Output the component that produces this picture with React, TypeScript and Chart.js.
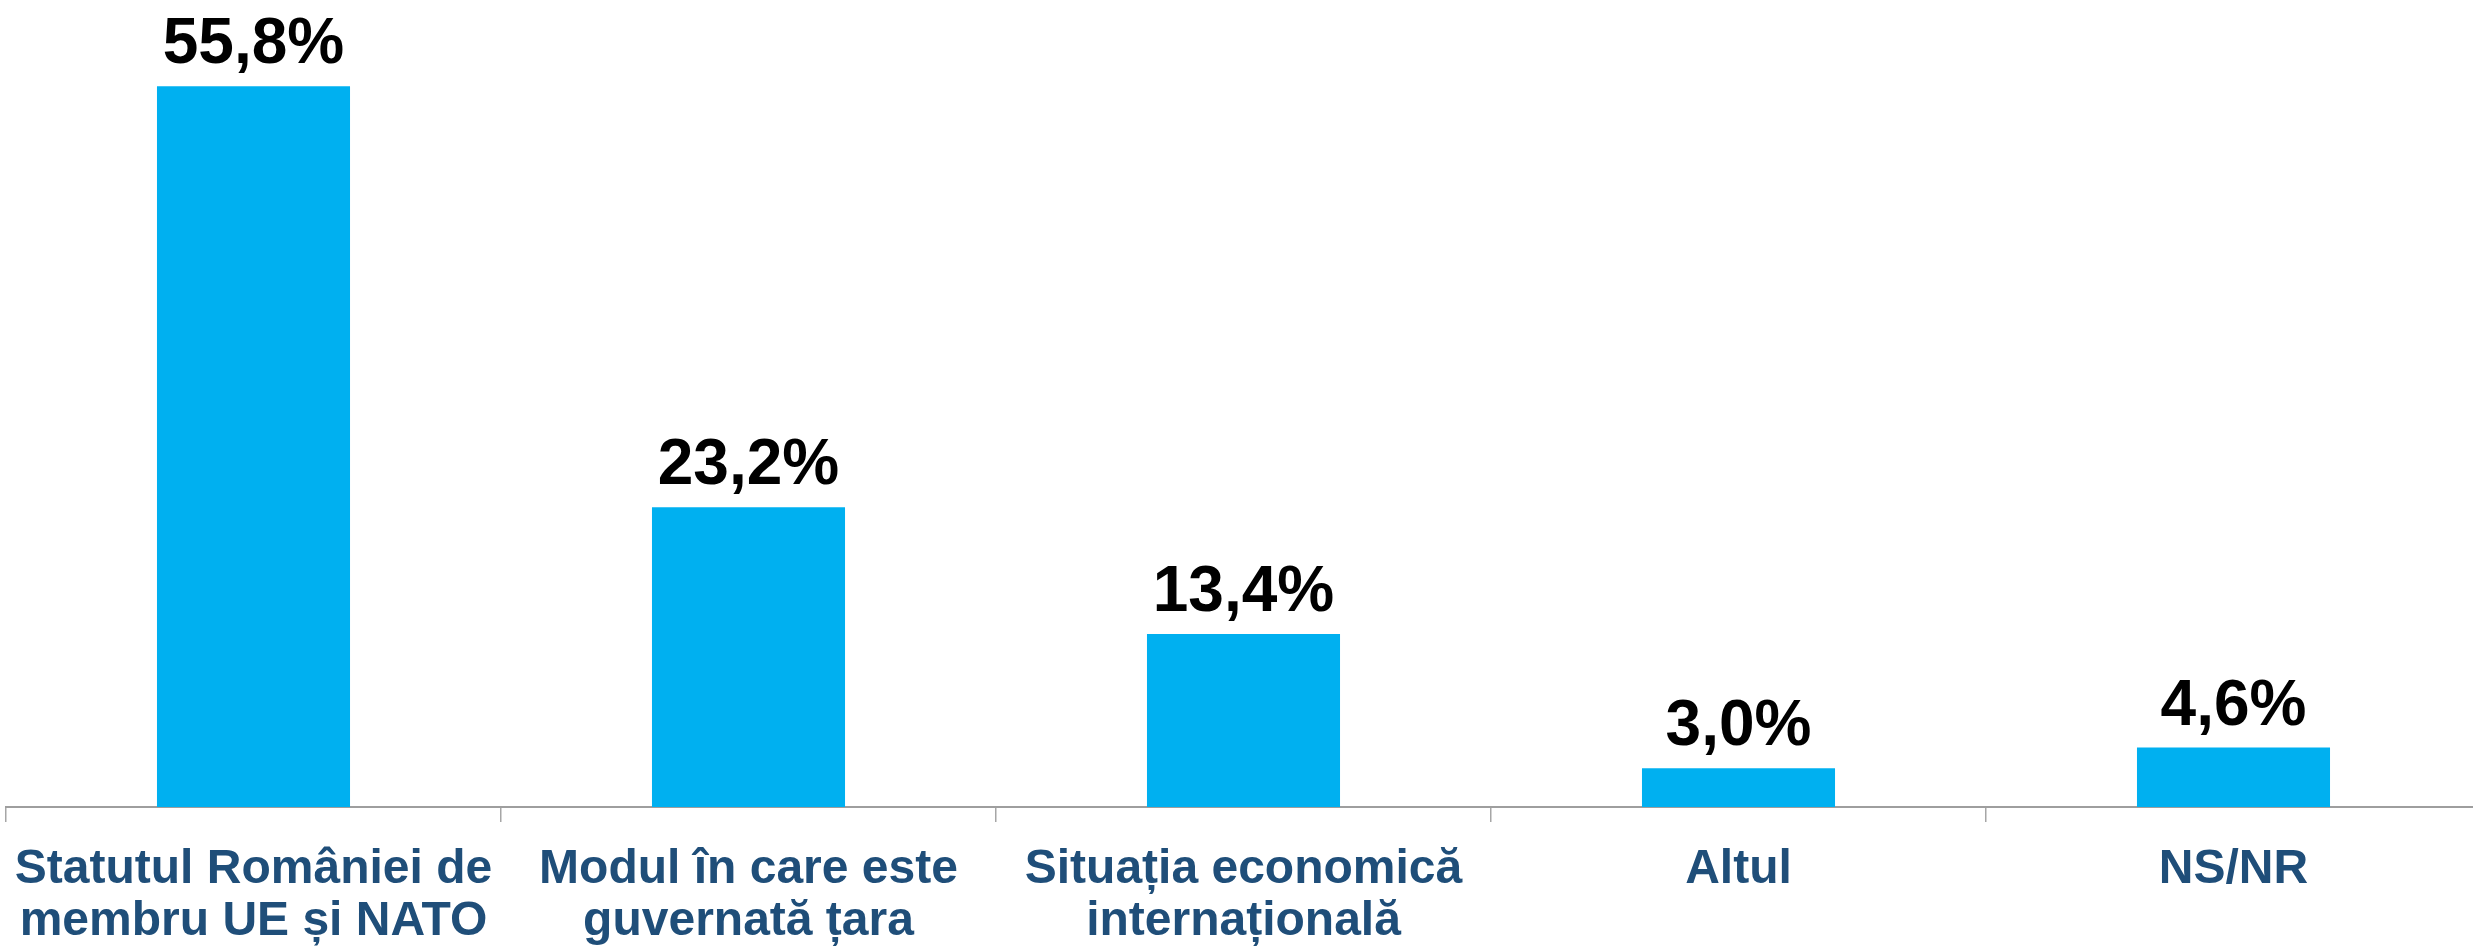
import React, { useEffect, useRef } from "react";
import { Chart, registerables } from "chart.js";

Chart.register(...registerables);

const categories: string[][] = [
  ["Statutul României de", "membru UE și NATO"],
  ["Modul în care este", "guvernată țara"],
  ["Situația economică", "internațională"],
  ["Altul"],
  ["NS/NR"],
];
const values: number[] = [55.8, 23.2, 13.4, 3.0, 4.6];

const FONT = "'Liberation Sans', Arial, Helvetica, sans-serif";

const valueLabels = {
  id: "valueLabels",
  afterDatasetsDraw(chart: any) {
    const ctx = chart.ctx;
    const meta = chart.getDatasetMeta(0);
    ctx.save();
    ctx.font = `bold 64px ${FONT}`;
    ctx.fillStyle = "#000000";
    ctx.textAlign = "center";
    ctx.textBaseline = "alphabetic";
    meta.data.forEach((bar: any, i: number) => {
      const txt = values[i].toFixed(1).replace(".", ",") + "%";
      ctx.fillText(txt, bar.x, bar.y - 23);
    });
    ctx.restore();
  },
};

export default function App() {
  const ref = useRef<HTMLCanvasElement | null>(null);
  useEffect(() => {
    if (!ref.current) return;
    const chart = new Chart(ref.current, {
      type: "bar",
      data: {
        labels: categories,
        datasets: [
          {
            data: values,
            backgroundColor: "#00B0F0",
            borderWidth: 0,
            barPercentage: 0.39,
            categoryPercentage: 1,
          },
        ],
      },
      options: {
        responsive: false,
        animation: false,
        devicePixelRatio: 1,
        layout: { padding: { left: 6, right: 9, top: 32, bottom: 0 } },
        plugins: {
          legend: { display: false },
          tooltip: { enabled: false },
        },
        scales: {
          x: {
            offset: true,
            grid: {
              display: true,
              offset: true,
              drawOnChartArea: false,
              drawTicks: true,
              tickLength: 15,
              color: "#A6A6A6",
              lineWidth: 1.5,
            },
            border: { display: true, color: "#9E9E9E", width: 2 },
            ticks: {
              color: "#1F4E79",
              font: { family: FONT, size: 48, weight: "bold", lineHeight: 52 / 48 },
              padding: 22,
              maxRotation: 0,
              minRotation: 0,
              autoSkip: false,
            },
            afterFit: (scale: any) => {
              scale.height = 141;
              scale.paddingLeft = 0;
              scale.paddingRight = 0;
            },
          },
          y: {
            display: false,
            min: 0,
            max: 60,
          },
        },
      },
      plugins: [valueLabels],
    });
    return () => chart.destroy();
  }, []);
  return (
    <div
      style={{
        position: "absolute",
        left: 0,
        top: 0,
        width: 2473,
        height: 948,
        overflow: "hidden",
        background: "#ffffff",
      }}
    >
      <canvas ref={ref} width={2490} height={948} style={{ width: 2490, height: 948, display: "block" }} />
    </div>
  );
}
